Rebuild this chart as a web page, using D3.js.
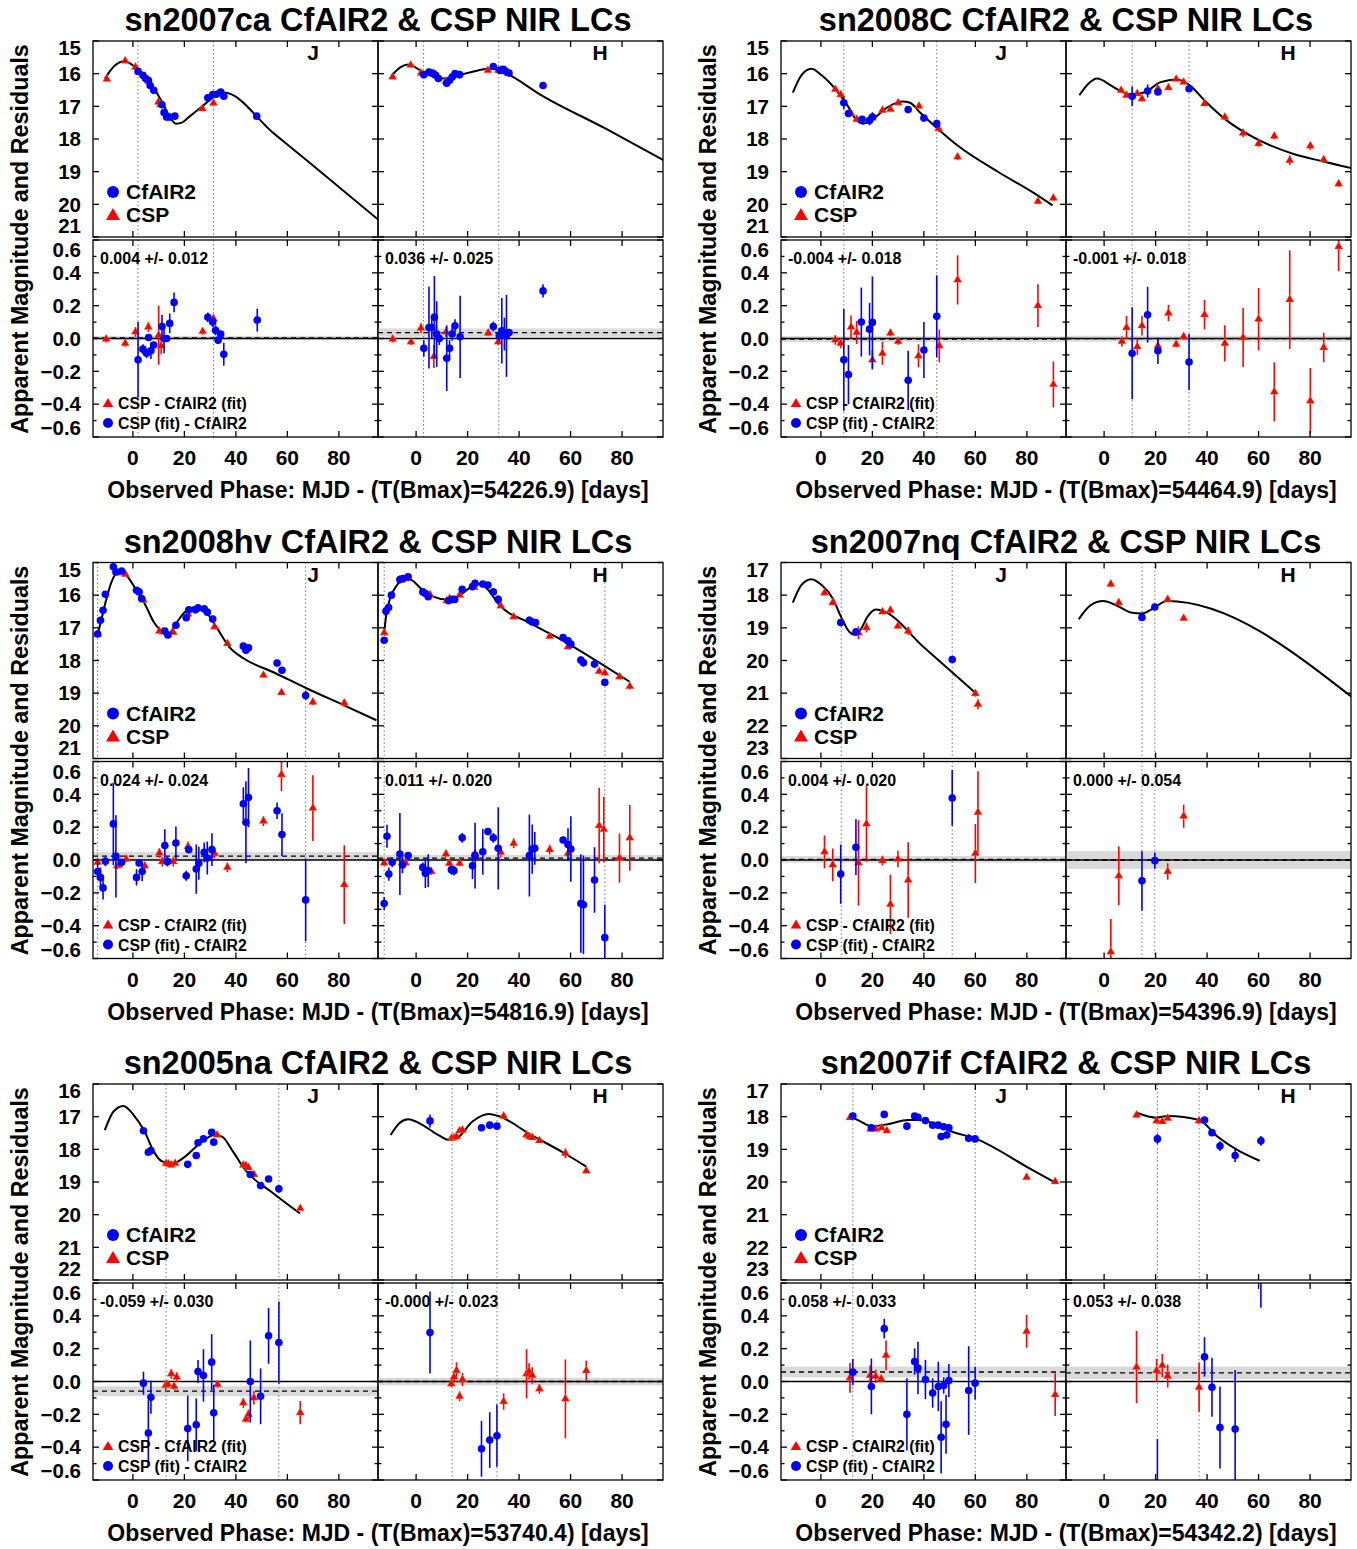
<!DOCTYPE html>
<html>
<head>
<meta charset="utf-8">
<script src="https://cdn.jsdelivr.net/npm/d3@7/dist/d3.min.js"></script>
<style>
  body, html { margin: 0; padding: 0; background: #fff; }
  svg { display: block; }
  text { font-family: "Liberation Sans", Arial, Helvetica, sans-serif; font-weight: bold; fill: #000; }
</style>
</head>
<body>
<svg id="chart" width="1357" height="1549"></svg>
<script>
// ---------- data: [phase, mag(or residual), error] ----------
var xTicks = [0, 20, 40, 60, 80];
var resTicks = [0.6, 0.4, 0.2, 0.0, -0.2, -0.4, -0.6];

// sn2007ca
var ca_J_curve = [[-10.9,16.15],[-7,15.75],[-3.3,15.62],[1.7,15.85],[4.5,16.05],[7.4,16.36],[11.7,16.92],[14.5,17.35],[16.7,17.53],[19,17.5],[21.7,17.33],[27.4,16.97],[32.4,16.66],[35.3,16.58],[54.6,17.82],[68.9,18.74],[95.3,20.47]];
var ca_J_cfa = [[2.0,15.93,0.1],[3.9,16.05],[4.9,16.15],[6.0,16.20],[6.7,16.36],[8.1,16.51],[11.3,16.95],[12.1,17.19],[13.1,17.33],[14.3,17.33],[16.3,17.30],[29.1,16.74],[31.0,16.64],[32.4,16.63],[34.1,16.56],[35.3,16.69],[48.1,17.30]];
var ca_J_csp = [[-10.1,16.17],[-3.0,15.61],[1.0,15.80],[6.0,16.23],[9.9,16.87],[10.7,16.95],[27.0,17.07],[31.3,16.90]];
var ca_J_rcfa = [[2.0,-0.13,0.23],[3.9,-0.065,0.03],[5.3,-0.09,0.03],[6.1,0.006,0.02],[7.0,-0.075,0.05],[8.1,-0.04,0.02],[11.3,0.073,0.07],[12.1,0.0,0.09],[13.1,0.0,0.02],[14.3,0.092,0.06],[16.0,0.22,0.06],[29.1,0.129,0.03],[31.0,0.10,0.03],[32.1,0.05,0.03],[33.1,-0.01,0.02],[34.1,0.027,0.02],[35.3,-0.096,0.07],[48.3,0.112,0.07]];
var ca_J_rcsp = [[-10.4,-0.004,0.02],[-3.0,-0.03,0.02],[1.0,0.04,0.03],[6.0,0.07,0.03],[10.0,0.02,0.18],[11.0,-0.045,0.05],[27.1,0.043,0.02],[31.3,0.12,0.03]];
var ca_H_curve = [[-9.6,16.07],[-6,15.8],[-3.1,15.72],[0,15.82],[2.6,15.95],[6,16.07],[9.0,16.13],[12.6,16.15],[16,16.08],[19.0,16.0],[24,15.9],[28.3,15.85],[31.9,15.88],[34.5,15.97],[37.6,16.10],[47.6,16.61],[73.3,17.67],[96.1,18.65]];
var ca_H_cfa = [[3.0,16.03],[5.0,15.95,0.1],[6.1,15.98],[7.6,16.05,0.15],[8.7,16.15,0.1],[11.9,16.29,0.1],[13.0,16.2],[14.0,16.1],[15.1,16.0],[16.9,16.03,0.12],[30.0,15.78],[32.6,15.9,0.1],[33.7,15.87],[34.7,15.92,0.15],[36.1,15.98],[49.3,16.36]];
var ca_H_csp = [[-9.1,16.1],[-2.1,15.74],[1.9,15.98],[6.9,16.0],[11.6,16.23],[27.9,15.90],[31.9,15.90]];
var ca_H_rcfa = [[3.0,-0.06,0.05],[5.0,0.067,0.25],[6.1,0.067,0.07],[7.1,0.13,0.25],[8.0,0.027,0.2],[9.0,0.0,0.04],[11.9,-0.12,0.2],[13.0,-0.06,0.05],[14.0,0.027,0.04],[15.1,0.078,0.04],[17.1,0.01,0.25],[30.0,0.073,0.03],[32.3,0.016,0.03],[33.3,0.047,0.2],[34.3,0.027,0.1],[35.1,0.016,0.25],[36.1,0.037,0.02],[49.3,0.29,0.04]];
var ca_H_rcsp = [[-9.1,-0.004,0.02],[-2.0,-0.02,0.02],[1.9,0.063,0.03],[6.9,-0.11,0.07],[11.6,0.04,0.03],[28.0,0.033,0.02],[31.9,-0.02,0.02]];

// sn2008C
var c8_J_curve = [[-10.9,16.58],[-7.6,16.05],[-3.7,15.85],[0.3,16.05],[6.0,16.51],[10.3,16.97],[13.9,17.43],[16.3,17.53],[20.3,17.38],[26.0,17.02],[31.7,16.85],[34.6,16.89],[38.9,17.22],[44.6,17.63],[53.1,18.2],[68.9,19.01],[83.1,19.67],[90,20.03]];
var c8_J_cfa = [[8.9,16.89,0.2],[10.7,17.22,0.1],[16.0,17.40,0.1],[18.9,17.43,0.15],[20.0,17.33,0.15],[33.9,17.10,0.1],[40.0,17.36,0.1],[45.0,17.53,0.12]];
var c8_J_csp = [[5.6,16.48],[7.7,16.64],[11.7,17.22],[13.9,17.40],[20.0,17.35],[23.9,17.12],[27.0,17.09],[30.0,16.89],[38.1,16.99],[45.7,17.68,0.1],[53.1,18.55,0.1],[84.3,19.91,0.08],[90.3,19.81,0.08]];
var c8_J_rcfa = [[8.9,-0.13,0.31],[10.7,-0.22,0.18],[15.7,0.10,0.21],[18.9,0.057,0.16],[20.0,0.098,0.28],[33.9,-0.255,0.18],[40.0,-0.07,0.17],[45.0,0.135,0.25]];
var c8_J_rcsp = [[5.6,-0.008,0.03],[7.7,-0.03,0.03],[11.7,0.07,0.07],[13.9,0.037,0.07],[20.0,-0.13,0.06],[23.9,-0.09,0.07],[27.0,0.033,0.02],[30.0,-0.018,0.02],[37.9,-0.106,0.07],[46.0,-0.045,0.1],[53.1,0.357,0.15],[84.3,0.2,0.13],[90.3,-0.28,0.14]];
var c8_H_curve = [[-9.6,16.66],[-6,16.3],[-2.7,16.15],[2.6,16.36],[6,16.52],[10.4,16.64],[16.1,16.56],[21.9,16.26],[28.3,16.18],[33.3,16.36],[39,16.82],[47.6,17.43],[59,17.99],[73.3,18.45],[84.7,18.68],[96.1,18.89]];
var c8_H_cfa = [[10.9,16.69,0.3],[16.9,16.53,0.2],[20.9,16.56,0.08],[33.0,16.46,0.1]];
var c8_H_csp = [[6.6,16.51],[8.7,16.66],[12.9,16.61],[14.7,16.77],[20.9,16.46],[25,16.43],[28,16.17],[30.9,16.26],[39,16.92],[46.9,17.33,0.08],[54,17.82,0.12],[60,18.14,0.1],[66.1,17.91,0.1],[72.1,18.65,0.15],[80.1,18.21,0.12],[85.3,18.63,0.05],[91.1,19.37,0.1]];
var c8_H_rcfa = [[10.9,-0.09,0.28],[16.9,0.145,0.17],[20.9,-0.075,0.08],[33.0,-0.143,0.17]];
var c8_H_rcsp = [[6.9,-0.018,0.03],[8.7,0.067,0.07],[12.9,-0.05,0.05],[14.7,0.078,0.06],[20.9,-0.045,0.04],[25,0.155,0.05],[28,-0.035,0.02],[30.9,0.012,0.02],[39,0.145,0.09],[46.9,-0.03,0.11],[54,0.006,0.18],[60,0.118,0.19],[66.1,-0.325,0.18],[72.1,0.237,0.3],[80.1,-0.38,0.2],[85.3,-0.055,0.09],[91.1,0.56,0.15]];

// sn2008hv
var hv_J_curve = [[-13.7,17.22],[-12.6,16.87],[-10.4,16.15],[-8.3,15.59],[-5.4,15.29],[-2.6,15.39],[1.0,15.80],[4.6,16.26],[8.1,16.82],[11.7,17.12],[13.9,17.17],[16.7,16.87],[20.3,16.51],[24.6,16.36],[28.9,16.56],[32.4,16.97],[37.4,17.58],[43.1,17.94],[54.6,18.36],[67.4,18.85],[83.1,19.41],[94.6,19.83]];
var hv_J_cfa = [[-13.7,17.19,0.04],[-12.6,16.77,0.04],[-11.6,16.46],[-10.7,15.97],[-7.6,15.13,0.08],[-6.6,15.29,0.1],[-4.4,15.26],[1.4,15.85],[2.4,15.90],[3.4,16.10],[12.4,17.10],[13.6,17.22],[16.7,16.92],[20.7,16.69],[21.7,16.45],[24.3,16.45,0.08],[25.3,16.39,0.08],[27.7,16.42],[28.9,16.52],[31,16.73,0.1],[42.9,17.56,0.1],[43.9,17.69,0.1],[44.9,17.61,0.1],[56,18.08],[57.9,18.30,0.08],[67.1,19.07,0.15]];
var hv_J_csp = [[-13.7,17.19],[-6.1,15.32],[-2.9,15.36],[4.1,16.15],[10.3,17.10],[11.7,17.12],[15.7,17.14],[21.4,16.58],[31.7,16.97],[36.7,17.48],[50.7,18.45],[57.7,18.98,0.05],[69.9,19.27,0.1],[82.1,19.30,0.12]];
var hv_J_rcfa = [[-13.7,-0.07,0.05],[-12.6,-0.106,0.06],[-11.6,-0.17,0.07],[-10.7,-0.008,0.03],[-7.6,0.22,0.25],[-6.6,0.022,0.25],[-4.4,-0.014,0.02],[1.4,-0.106,0.05],[2.4,-0.018,0.02],[3.6,-0.07,0.06],[12.4,0.088,0.1],[13.4,-0.01,0.03],[16.7,0.104,0.1],[20.7,-0.096,0.03],[21.7,0.063,0.02],[24.6,-0.055,0.15],[25.6,-0.02,0.1],[27.7,0.047,0.06],[28.9,0.012,0.1],[30.7,0.063,0.1],[42.9,0.343,0.1],[43.9,0.23,0.25],[44.9,0.38,0.18],[56,0.30,0.05],[57.9,0.155,0.13],[67.1,-0.243,0.25]];
var hv_J_rcsp = [[-13.7,-0.014,0.02],[-6.1,-0.035,0.02],[-5.4,-0.03,0.02],[-2.6,0.006,0.02],[4.6,-0.035,0.02],[10.3,0.043,0.03],[11.4,-0.01,0.03],[15.7,-0.01,0.03],[21.4,0.082,0.03],[31.7,0.04,0.03],[36.7,-0.045,0.03],[50.7,0.237,0.03],[57.7,0.52,0.1],[69.9,0.316,0.2],[82.1,-0.15,0.24]];
var hv_H_curve = [[-12.4,17.17],[-11.7,16.66],[-10.3,16.15],[-7.4,15.69],[-4.6,15.49],[-1.7,15.54],[1.9,15.8],[6.1,16.03],[11.9,16.13],[16.1,16.05],[20.4,15.8],[24,15.66],[27.6,15.8],[31.9,16.26],[44.7,16.87],[59,17.48],[73.3,18.17],[83,18.65]];
var hv_H_cfa = [[-12.4,17.38,0.05],[-11.7,16.49],[-10.7,16.38],[-9.6,16.0],[-6.3,15.52,0.12],[-5,15.49],[-3.1,15.44],[2.6,15.9],[3.6,15.95,0.1],[4.7,16.05,0.1],[12.6,16.17],[14,16.13],[15,16.13],[17.9,15.82],[21.9,15.74],[22.9,15.64,0.08],[25.9,15.66],[27.9,15.69],[30,15.9],[31.9,16.13,0.12],[44,16.77,0.12],[45.1,16.82,0.1],[46.4,16.84],[57.1,17.30],[59,17.40],[60.1,17.5],[64,17.99,0.12],[65,18.07,0.12],[69.3,18.11,0.1],[73.3,18.67,0.08]];
var hv_H_csp = [[-12.4,17.15],[-5.6,15.54],[-3.9,15.49],[5.4,15.98],[11.9,16.17],[13,16.1],[16.9,16.0],[22.6,15.76],[32.9,16.33],[37.9,16.66],[51.9,17.26],[59,17.58],[71.1,18.33,0.08],[73.3,18.38,0.08],[79,18.5,0.05],[83,18.79,0.1]];
var hv_H_rcfa = [[-12.4,-0.265,0.04],[-11.3,0.145,0.07],[-10.6,-0.086,0.04],[-9.3,-0.014,0.03],[-6.3,0.037,0.25],[-5.3,-0.03,0.05],[-3.1,0.027,0.02],[2.6,-0.045,0.03],[3.6,-0.08,0.09],[4.7,-0.065,0.1],[13.7,-0.06,0.03],[14.7,-0.065,0.03],[17.9,0.135,0.03],[21.9,-0.035,0.08],[22.9,0.027,0.2],[25.9,0.05,0.14],[27.9,0.173,0.02],[30,0.135,0.03],[31.9,0.071,0.25],[44,0.027,0.25],[45.1,0.067,0.15],[46.1,0.071,0.1],[57.1,0.122,0.02],[59,0.094,0.1],[60.1,0.067,0.2],[64,-0.265,0.3],[65,-0.273,0.3],[69.3,-0.122,0.2],[73.3,-0.473,0.2]];
var hv_H_rcsp = [[-12.4,-0.018,0.02],[-5.3,-0.014,0.02],[-4.1,-0.018,0.02],[5.9,-0.07,0.02],[11.6,0.037,0.02],[12.9,-0.02,0.02],[16.9,-0.02,0.02],[22.9,0.04,0.02],[32.9,0.047,0.03],[37.9,0.102,0.03],[51.9,0.063,0.03],[59,0.04,0.02],[71.1,0.21,0.23],[72.9,0.186,0.2],[79,0.012,0.15],[83,0.135,0.2]];

// sn2007nq
var nq_J_curve = [[-10.9,18.23],[-7.6,17.69],[-3.7,17.51],[0.3,17.69],[4.6,18.10],[8.1,18.71],[11,19.12],[13.4,19.22],[15.7,19.02],[18.1,18.66],[21.4,18.44],[23.9,18.48],[40.3,19.62],[60.3,21.01]];
var nq_J_cfa = [[7.7,18.84,0.1],[13.6,19.12,0.08],[51,19.97,0.1]];
var nq_J_csp = [[1.4,17.93,0.05],[4.6,18.23,0.05],[14.6,19.15,0.2],[17.7,18.99,0.15],[23.9,18.51],[27,18.46,0.12],[29.9,18.95],[33.9,19.10,0.12],[60,21.01,0.1],[61,21.34,0.15]];
var nq_J_rcfa = [[7.7,-0.086,0.18],[13.6,0.078,0.17],[51,0.378,0.17]];
var nq_J_rcsp = [[1.4,0.05,0.1],[4.6,-0.03,0.1],[14.6,-0.018,0.26],[17.7,0.22,0.23],[23.9,-0.004,0.03],[27,-0.27,0.18],[29.9,0.006,0.05],[33.9,-0.122,0.23],[60,0.04,0.18],[61,0.29,0.25]];
var nq_H_curve = [[-9.9,18.74],[-5.3,18.31],[-0.3,18.18],[4.7,18.31],[10.4,18.53],[14.7,18.56],[19,18.41],[24.4,18.18],[96.1,21.11]];
var nq_H_cfa = [[14.7,18.68,0.1],[19.7,18.36,0.03]];
var nq_H_csp = [[2.6,17.66,0.1],[5.7,18.23,0.1],[24.7,18.13,0.03],[30.9,18.71]];
var nq_H_rcfa = [[14.7,-0.127,0.18],[19.7,-0.004,0.05]];
var nq_H_rcsp = [[2.6,-0.56,0.2],[5.7,-0.096,0.18],[24.7,-0.07,0.05],[30.9,0.267,0.07]];

// sn2005na
var na_J_curve = [[-10.9,17.41],[-7.6,16.85],[-3.7,16.67],[0.3,16.95],[4.6,17.46],[8.1,18.07],[11.7,18.38],[16,18.41],[20.3,18.22],[26,17.82],[31.7,17.56],[34.6,17.61],[38.9,18.07],[43.1,18.58],[54.6,19.35],[64.9,19.96]];
var na_J_cfa = [[4.1,17.43],[6,18.09,0.08],[7,18.04,0.05],[21.3,18.46,0.1],[24.6,18.19,0.05],[25.3,17.80,0.05],[27.4,17.68,0.08],[30.6,17.48,0.08],[31.4,17.78,0.08],[45.6,18.77,0.1],[49.6,19.11,0.08],[52.7,18.91,0.08],[56.7,19.21,0.1]];
var na_J_csp = [[12.9,18.43],[13.9,18.45],[14.9,18.48],[16.4,18.43],[32.7,17.56],[42.9,18.48],[43.9,18.5],[44.9,18.56],[47,18.77],[65,19.81]];
var na_J_rcfa = [[4.1,-0.01,0.07],[6,-0.314,0.2],[7,-0.096,0.1],[21.3,-0.286,0.2],[24.6,-0.263,0.16],[25.3,0.061,0.07],[27.4,0.037,0.16],[30.6,0.118,0.17],[31.4,-0.19,0.17],[45.6,0.0,0.25],[49.6,-0.09,0.17],[52.7,0.278,0.17],[56.7,0.237,0.25]];
var na_J_rcsp = [[12.7,-0.024,0.03],[13.6,-0.018,0.02],[14.9,0.047,0.03],[16,-0.03,0.02],[17,0.027,0.03],[32.9,-0.018,0.02],[42.9,-0.13,0.03],[43.9,-0.23,0.02],[44.9,-0.2,0.03],[47,-0.1,0.04],[65,-0.19,0.07]];
var na_H_curve = [[-9.9,17.56],[-6.5,17.2],[-3.1,17.08],[0,17.15],[2.6,17.26],[9,17.58],[12.6,17.71],[16.1,17.64],[21.9,17.15],[28.3,16.92],[31.9,16.98],[44.7,17.56],[57.6,18.12],[66.1,18.53]];
var na_H_cfa = [[5.4,17.13,0.2],[25.4,17.34,0.1],[28.6,17.26,0.1],[31.4,17.29,0.1]];
var na_H_csp = [[13.7,17.66],[14.7,17.64],[15.7,17.61],[16.9,17.43],[18,17.41],[34,16.98],[42.9,17.56],[44,17.61],[45.1,17.64],[47.9,17.73],[58,18.12,0.15],[66.1,18.66]];
var na_H_rcfa = [[5.4,0.298,0.25],[25.4,-0.41,0.17],[28.6,-0.357,0.17],[31.4,-0.33,0.19]];
var na_H_rcsp = [[13.7,-0.014,0.02],[14.7,0.027,0.03],[15.7,0.067,0.05],[16.9,-0.09,0.03],[18,0.012,0.04],[34,-0.122,0.05],[42.9,0.047,0.15],[43.9,0.061,0.05],[45.1,0.037,0.05],[47.9,-0.045,0.03],[58,-0.106,0.24],[66.1,0.067,0.06]];

// sn2007if
var if_J_curve = [[11.7,18.0],[15.5,18.15],[19.6,18.29],[26,18.23],[33.9,18.10],[38.1,18.10],[44.6,18.23],[50.3,18.44],[60.3,18.68],[80.3,19.55],[91,20.02]];
var if_J_cfa = [[12.4,17.98],[19.6,18.34,0.08],[24.6,17.93],[33.4,18.29,0.1],[36.4,17.98],[37.7,18.02,0.05],[40.6,18.12,0.05],[43.4,18.26,0.05],[45.6,18.26,0.08],[46.7,18.61,0.1],[47.7,18.31],[48.9,18.56,0.1],[49.7,18.34],[57.4,18.66,0.12],[59.9,18.68]];
var if_J_csp = [[11.3,18.03],[19.3,18.38],[21.4,18.38],[23.6,18.34],[25.6,18.43],[79.9,19.86],[91,19.99]];
var if_J_rcfa = [[12.4,0.057,0.08],[19.6,-0.03,0.17],[24.6,0.322,0.06],[33.4,-0.2,0.22],[36.4,0.122,0.08],[37.7,0.082,0.16],[40.6,0.012,0.12],[43.4,-0.07,0.09],[45.6,-0.03,0.15],[46.7,-0.34,0.22],[47.7,-0.024,0.05],[48.6,-0.26,0.18],[49.7,0.006,0.1],[57.4,-0.055,0.27],[59.9,-0.01,0.1]];
var if_J_rcsp = [[11.3,0.022,0.09],[19.1,0.037,0.06],[21.3,0.031,0.04],[23.4,0.016,0.02],[25.3,0.159,0.09],[79.9,0.306,0.1],[91,-0.08,0.13]];
var if_H_curve = [[12.6,17.88],[20.4,18.03],[24.7,17.98],[36.9,18.10],[44,18.61],[60.4,19.35]];
var if_H_cfa = [[20.7,18.68,0.15],[39,18.10],[41.9,18.49,0.1],[45,18.9,0.15],[50.9,19.19,0.2],[60.9,18.74,0.15]];
var if_H_csp = [[12.6,17.95,0.08],[20.4,18.13,0.05],[22.6,18.15],[24.7,18.05],[36.9,18.13,0.08]];
var if_H_rcfa = [[20.7,-0.85,0.5],[39,0.15,0.12],[41.9,-0.035,0.18],[45,-0.28,0.25],[50.9,-0.29,0.36],[60.9,0.75,0.3]];
var if_H_rcsp = [[12.6,0.088,0.22],[20.4,0.067,0.07],[22.6,0.098,0.07],[24.7,0.033,0.07],[36.9,-0.035,0.15]];

// per-panel info
var names = ['sn2007ca', 'sn2008C', 'sn2008hv', 'sn2007nq', 'sn2005na', 'sn2007if'];
var tBmax = ['54226.9', '54464.9', '54816.9', '54396.9', '53740.4', '54342.2'];
var magTop = [15, 15, 15, 17, 16, 17];
var vlinesJ = [[2.0, 31.3], [8.9, 45.0], [-13.7, 67.1], [7.9, 51], [12.9, 56.7], [12.4, 59.9]];
var vlinesH = [[2.9, 32.1], [10.9, 33.0], [-12.4, 73.3], [14.7, 19.7], [14, 31.4], [20.7, 36.9]];
var offsetJ = [[0.004, 0.012], [-0.004, 0.018], [0.024, 0.024], [0.004, 0.020], [-0.059, 0.030], [0.058, 0.033]];
var offsetH = [[0.036, 0.025], [-0.001, 0.018], [0.011, 0.020], [0.000, 0.054], [-0.000, 0.023], [0.053, 0.038]];
var offsetTxtJ = ['0.004 +/- 0.012', '-0.004 +/- 0.018', '0.024 +/- 0.024', '0.004 +/- 0.020', '-0.059 +/- 0.030', '0.058 +/- 0.033'];
var offsetTxtH = ['0.036 +/- 0.025', '-0.001 +/- 0.018', '0.011 +/- 0.020', '0.000 +/- 0.054', '-0.000 +/- 0.023', '0.053 +/- 0.038'];

var bandData = {
  J: [
    [ca_J_curve, ca_J_cfa, ca_J_csp, ca_J_rcfa, ca_J_rcsp],
    [c8_J_curve, c8_J_cfa, c8_J_csp, c8_J_rcfa, c8_J_rcsp],
    [hv_J_curve, hv_J_cfa, hv_J_csp, hv_J_rcfa, hv_J_rcsp],
    [nq_J_curve, nq_J_cfa, nq_J_csp, nq_J_rcfa, nq_J_rcsp],
    [na_J_curve, na_J_cfa, na_J_csp, na_J_rcfa, na_J_rcsp],
    [if_J_curve, if_J_cfa, if_J_csp, if_J_rcfa, if_J_rcsp]
  ],
  H: [
    [ca_H_curve, ca_H_cfa, ca_H_csp, ca_H_rcfa, ca_H_rcsp],
    [c8_H_curve, c8_H_cfa, c8_H_csp, c8_H_rcfa, c8_H_rcsp],
    [hv_H_curve, hv_H_cfa, hv_H_csp, hv_H_rcfa, hv_H_rcsp],
    [nq_H_curve, nq_H_cfa, nq_H_csp, nq_H_rcfa, nq_H_rcsp],
    [na_H_curve, na_H_cfa, na_H_csp, na_H_rcfa, na_H_rcsp],
    [if_H_curve, if_H_cfa, if_H_csp, if_H_rcfa, if_H_rcsp]
  ]
};

// ---------- drawing ----------
var svg = d3.select('#chart');
var BLUE = '#0000ff', RED = '#ff0000';
var subW = 285, topH = 196, resGap = 3, resH = 197;
var tri = d3.symbol().type(d3.symbolTriangle);
var clipId = 0;

function drawTicks(g, x, y, w, h, xs, xt, ys, yt) {
  xt.forEach(function (t) {
    var px = xs(t[0]), l = t[1];
    g.append('line').attr('x1', px).attr('x2', px).attr('y1', y).attr('y2', y + l);
    g.append('line').attr('x1', px).attr('x2', px).attr('y1', y + h).attr('y2', y + h - l);
  });
  yt.forEach(function (t) {
    var py = ys(t[0]), l = t[1];
    g.append('line').attr('x1', x).attr('x2', x + l).attr('y1', py).attr('y2', py);
    g.append('line').attr('x1', x + w).attr('x2', x + w - l).attr('y1', py).attr('y2', py);
  });
}

function drawPoints(g, data, xs, ys, kind) {
  var col = kind === 'cfa' ? BLUE : RED;
  data.forEach(function (d) {
    if (d[2]) {
      g.append('line').attr('x1', xs(d[0])).attr('x2', xs(d[0]))
        .attr('y1', ys(d[1] - d[2])).attr('y2', ys(d[1] + d[2]))
        .attr('stroke', col).attr('stroke-width', 1.6);
    }
  });
  data.forEach(function (d) {
    if (kind === 'cfa') {
      g.append('circle').attr('cx', xs(d[0])).attr('cy', ys(d[1])).attr('r', 3.8).attr('fill', col);
    } else {
      g.append('path').attr('d', tri.size(30)())
        .attr('transform', 'translate(' + xs(d[0]) + ',' + ys(d[1]) + ')')
        .attr('fill', col).attr('stroke', '#c89a4a').attr('stroke-width', 0.4);
    }
  });
}

function clipRect(x, y, w, h) {
  var id = 'clip' + (clipId++);
  svg.append('clipPath').attr('id', id).append('rect')
    .attr('x', x).attr('y', y).attr('width', w).attr('height', h);
  return 'url(#' + id + ')';
}

function drawSub(p, band, x0, yTop) {
  var dat = bandData[band][p];
  var domain = band === 'J' ? [-15.5, 95.2] : [-14.8, 95.9];
  var xs = d3.scaleLinear().domain(domain).range([x0, x0 + subW]);
  var ym = d3.scaleLinear().domain([magTop[p], magTop[p] + 6]).range([yTop, yTop + topH]);
  var resTop = yTop + topH + resGap;
  var yr = d3.scaleLinear().domain([0.6, -0.6]).range([resTop, resTop + resH]);
  var vl = band === 'J' ? vlinesJ[p] : vlinesH[p];
  var off = band === 'J' ? offsetJ[p] : offsetH[p];

  // top: light curve
  var gt = svg.append('g').attr('clip-path', clipRect(x0, yTop, subW, topH));
  vl.forEach(function (v) {
    gt.append('line').attr('x1', xs(v)).attr('x2', xs(v)).attr('y1', yTop).attr('y2', yTop + topH)
      .attr('stroke', '#777').attr('stroke-width', 1).attr('stroke-dasharray', '1.5,2.5');
  });
  var line = d3.line().x(function (d) { return xs(d[0]); }).y(function (d) { return ym(d[1]); })
    .curve(d3.curveMonotoneX);
  gt.append('path').attr('d', line(dat[0])).attr('fill', 'none').attr('stroke', '#000').attr('stroke-width', 2);
  drawPoints(gt, dat[2], xs, ym, 'csp');
  drawPoints(gt, dat[1], xs, ym, 'cfa');

  // bottom: residuals
  var gr = svg.append('g').attr('clip-path', clipRect(x0, resTop, subW, resH));
  gr.append('rect').attr('x', x0).attr('width', subW)
    .attr('y', yr(off[0] + off[1])).attr('height', yr(off[0] - off[1]) - yr(off[0] + off[1]))
    .attr('fill', '#d9d9d9');
  gr.append('line').attr('x1', x0).attr('x2', x0 + subW).attr('y1', yr(0)).attr('y2', yr(0))
    .attr('stroke', '#000').attr('stroke-width', 1.3);
  gr.append('line').attr('x1', x0).attr('x2', x0 + subW).attr('y1', yr(off[0])).attr('y2', yr(off[0]))
    .attr('stroke', '#000').attr('stroke-width', 1.3).attr('stroke-dasharray', '5,4');
  vl.forEach(function (v) {
    gr.append('line').attr('x1', xs(v)).attr('x2', xs(v)).attr('y1', resTop).attr('y2', resTop + resH)
      .attr('stroke', '#777').attr('stroke-width', 1).attr('stroke-dasharray', '1.5,2.5');
  });
  drawPoints(gr, dat[4], xs, yr, 'csp');
  drawPoints(gr, dat[3], xs, yr, 'cfa');

  // frames and ticks
  var gf = svg.append('g').attr('stroke', '#000').attr('stroke-width', 1.3).attr('fill', 'none');
  gf.append('rect').attr('x', x0).attr('y', yTop).attr('width', subW).attr('height', topH);
  gf.append('rect').attr('x', x0).attr('y', resTop).attr('width', subW).attr('height', resH);
  var xt = xTicks.map(function (t) { return [t, 6]; });
  var magTicks = d3.range(magTop[p], magTop[p] + 7).map(function (m) { return [m, 6]; });
  drawTicks(gf, x0, yTop, subW, topH, xs, xt, ym, magTicks);
  var rt = d3.range(-6, 7).map(function (i) { return [i / 10, i % 2 === 0 ? 6 : 3.5]; });
  drawTicks(gf, x0, resTop, subW, resH, xs, xt, yr, rt);

  // texts
  svg.append('text').attr('x', x0 + 7).attr('y', resTop + 24).attr('font-size', 16)
    .text(band === 'J' ? offsetTxtJ[p] : offsetTxtH[p]);
  svg.append('text').attr('x', x0 + (band === 'J' ? 220 : 222)).attr('y', yTop + 19)
    .attr('font-size', 21).attr('text-anchor', 'middle').text(band);
  xTicks.forEach(function (t) {
    svg.append('text').attr('x', xs(t)).attr('y', resTop + resH + 28).attr('font-size', 21)
      .attr('text-anchor', 'middle').text(t);
  });

  return { ym: ym, yr: yr, resTop: resTop };
}

names.forEach(function (nm, p) {
  var col = p % 2, row = Math.floor(p / 2);
  var x0 = 93 + col * 688;
  var yTop = 41 + row * 521.5;
  var xMid = x0 + subW;
  drawSub(p, 'J', x0, yTop);
  var s = drawSub(p, 'H', xMid, yTop);

  // y tick labels (end labels pulled inside the frame)
  var bot = yTop + topH;
  d3.range(magTop[p], magTop[p] + 7).forEach(function (m) {
    var py = Math.max(yTop + 7, Math.min(bot - 11, s.ym(m)));
    svg.append('text').attr('x', x0 - 12).attr('y', py).attr('dy', '0.35em').attr('font-size', 20.5)
      .attr('text-anchor', 'end').text(m);
  });
  resTicks.forEach(function (r) {
    var py = Math.max(s.resTop + 10, Math.min(s.resTop + resH - 9, s.yr(r)));
    svg.append('text').attr('x', x0 - 12).attr('y', py).attr('dy', '0.35em').attr('font-size', 20.5)
      .attr('text-anchor', 'end').text(d3.format('.1f')(r));
  });

  // legends
  svg.append('circle').attr('cx', x0 + 20).attr('cy', yTop + 151).attr('r', 6).attr('fill', BLUE);
  svg.append('text').attr('x', x0 + 33).attr('y', yTop + 158).attr('font-size', 21).text('CfAIR2');
  svg.append('path').attr('d', tri.size(85)()).attr('fill', RED)
    .attr('transform', 'translate(' + (x0 + 20) + ',' + (yTop + 175) + ')');
  svg.append('text').attr('x', x0 + 33).attr('y', yTop + 181).attr('font-size', 21).text('CSP');

  svg.append('path').attr('d', tri.size(48)()).attr('fill', RED)
    .attr('transform', 'translate(' + (x0 + 15) + ',' + (s.resTop + 164) + ')');
  svg.append('text').attr('x', x0 + 25).attr('y', s.resTop + 169).attr('font-size', 15.8).text('CSP - CfAIR2 (fit)');
  svg.append('circle').attr('cx', x0 + 15).attr('cy', s.resTop + 183).attr('r', 5).attr('fill', BLUE);
  svg.append('text').attr('x', x0 + 25).attr('y', s.resTop + 189).attr('font-size', 15.8).text('CSP (fit) - CfAIR2');

  // titles and axis labels
  svg.append('text').attr('x', xMid).attr('y', yTop - 10).attr('font-size', 32.5).attr('text-anchor', 'middle')
    .text(nm + ' CfAIR2 & CSP NIR LCs');
  svg.append('text').attr('x', xMid).attr('y', yTop + 457).attr('font-size', 23).attr('text-anchor', 'middle')
    .text('Observed Phase: MJD - (T(Bmax)=' + tBmax[p] + ') [days]');
  var cy = (yTop + s.resTop + resH) / 2;
  svg.append('text').attr('transform', 'translate(' + (x0 - 65) + ',' + cy + ') rotate(-90)')
    .attr('font-size', 23.3).attr('text-anchor', 'middle').text('Apparent Magnitude and Residuals');
});
</script>
</body>
</html>
